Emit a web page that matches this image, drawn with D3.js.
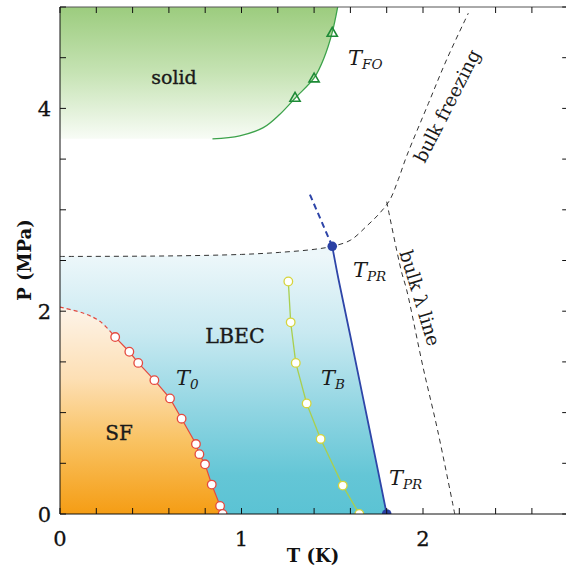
<!DOCTYPE html>
<html><head><meta charset="utf-8">
<script src="https://cdnjs.cloudflare.com/ajax/libs/d3/7.8.5/d3.min.js"></script>
<style>
html,body{margin:0;padding:0;background:#fff;}
svg{display:block;font-family:"DejaVu Serif",serif;}
</style></head>
<body><svg id="c" width="566" height="565"></svg>
<script>
// ---- data (T in K, P in MPa) ----
const xTicks = [0, 1, 2];
const yTicks = [0, 2, 4];
// T0 boundary (superfluid onset) measured points
const t0T = [0.304, 0.382, 0.431, 0.520, 0.606, 0.670, 0.749, 0.768, 0.799, 0.836, 0.882, 0.896];
const t0P = [1.745, 1.60, 1.49, 1.32, 1.14, 0.94, 0.69, 0.59, 0.49, 0.29, 0.08, 0.0];
// T0 extrapolation (dashed)
const t0ExtT = [0, 0.13, 0.22, 0.304];
const t0ExtP = [2.04, 1.98, 1.90, 1.745];
// TB points
const tbT = [1.258, 1.271, 1.299, 1.359, 1.436, 1.558, 1.649];
const tbP = [2.293, 1.89, 1.49, 1.09, 0.74, 0.28, 0.0];
// TPR line
const tprT = [1.50, 1.535, 1.598, 1.668, 1.755, 1.80];
const tprP = [2.64, 2.31, 1.77, 1.16, 0.40, 0.0];
// TPR dashed extension
const tprExtT = [1.377, 1.50];
const tprExtP = [3.15, 2.64];
// TPR end points (filled dots)
const tprDotT = [1.50, 1.80];
const tprDotP = [2.64, 0.0];
// TFO freezing-onset curve and markers
const tfoT = [0.84, 0.99, 1.12, 1.21, 1.30, 1.40, 1.455, 1.50, 1.53];
const tfoP = [3.70, 3.73, 3.81, 3.94, 4.11, 4.30, 4.50, 4.75, 5.0];
const tfoMarkT = [1.295, 1.40, 1.50];
const tfoMarkP = [4.11, 4.30, 4.75];
// bulk freezing (dashed)
const bfT = [0, 0.6, 1.0, 1.21, 1.4, 1.5, 1.6, 1.69, 1.763, 1.818, 1.864, 1.91, 2.03, 2.13, 2.25];
const bfP = [2.54, 2.545, 2.56, 2.58, 2.61, 2.64, 2.70, 2.84, 2.97, 3.10, 3.30, 3.53, 4.05, 4.48, 4.94];
// bulk lambda line (dashed)
const lamT = [1.80, 1.88, 1.91, 2.00, 2.08, 2.175];
const lamP = [3.08, 2.40, 2.21, 1.45, 0.83, 0.0];

const zip = (a, b) => a.map((v, i) => [v, b[i]]);

// ---- layout ----
const svg = d3.select("#c");
const x = d3.scaleLinear().domain([0, 2]).range([60, 423]);
const y = d3.scaleLinear().domain([0, 5]).range([514, 7]);
const xMax = 2.8;
const X0 = x(0), X1 = x(xMax), Y0 = y(0), Y1 = y(5);

const defs = svg.append("defs");
defs.append("clipPath").attr("id", "plot").append("rect")
  .attr("x", X0).attr("y", Y1).attr("width", X1 - X0).attr("height", Y0 - Y1);

function grad(id, p0, p1, stops) {
  const g = defs.append("linearGradient").attr("id", id)
    .attr("gradientUnits", "userSpaceOnUse")
    .attr("x1", 0).attr("x2", 0).attr("y1", y(p0)).attr("y2", y(p1));
  stops.forEach(s => g.append("stop").attr("offset", s[0]).attr("stop-color", s[1]));
}
grad("gSolid", 5, 3.70, [[0, "#9ccc7e"], [0.5, "#c6e3b4"], [1, "#f8fcf6"]]);
grad("gLbec", 2.55, 0, [[0, "#edf7fa"], [0.3, "#c8e9f1"], [0.6, "#90d5e2"], [0.85, "#64c6d6"], [1, "#5bc3d4"]]);
grad("gSf", 2.05, 0, [[0, "#fdf4ea"], [0.35, "#fddfb4"], [0.65, "#f9c262"], [1, "#f59d14"]]);

const lin = d3.line().x(d => x(d[0])).y(d => y(d[1]));
const smooth = d3.line().x(d => x(d[0])).y(d => y(d[1])).curve(d3.curveCatmullRom.alpha(0.5));

const g = svg.append("g").attr("clip-path", "url(#plot)");

// solid region
g.append("path")
  .attr("d", smooth(zip(tfoT, tfoP)) + `L${x(0)},${y(5)}L${x(0)},${y(3.70)}Z`)
  .attr("fill", "url(#gSolid)");

// LBEC region
const bfLeft = zip(bfT, bfP).filter(d => d[0] <= 1.5);
const lbecPts = [[0, 0]].concat(bfLeft, zip(tprT, tprP).slice(1));
g.append("path").attr("d", lin(lbecPts) + "Z").attr("fill", "url(#gLbec)");

// SF region
const sfPts = [[0, 0]].concat(zip(t0ExtT, t0ExtP), zip(t0T, t0P).slice(1));
g.append("path").attr("d", lin(sfPts) + "Z").attr("fill", "url(#gSf)");

// dashed bulk lines
g.append("path").attr("d", smooth(zip(bfT, bfP))).attr("fill", "none")
  .attr("stroke", "#333").attr("stroke-width", 1).attr("stroke-dasharray", "5,4");
g.append("path").attr("d", smooth(zip(lamT, lamP))).attr("fill", "none")
  .attr("stroke", "#333").attr("stroke-width", 1).attr("stroke-dasharray", "5,4");

// TFO curve + triangles
g.append("path").attr("d", smooth(zip(tfoT, tfoP))).attr("fill", "none")
  .attr("stroke", "#3ca24a").attr("stroke-width", 1.3);
const tri = d3.symbol().type(d3.symbolTriangle).size(45);
g.selectAll(".tri").data(zip(tfoMarkT, tfoMarkP)).join("path")
  .attr("d", tri).attr("transform", d => `translate(${x(d[0])},${y(d[1]) + 1})`)
  .attr("fill", "none").attr("stroke", "#1d8a36").attr("stroke-width", 1.6);

// T0 dashed extension + line + circles
g.append("path").attr("d", smooth(zip(t0ExtT, t0ExtP))).attr("fill", "none")
  .attr("stroke", "#e5493f").attr("stroke-width", 1.2).attr("stroke-dasharray", "4,3");
g.append("path").attr("d", lin(zip(t0T, t0P))).attr("fill", "none")
  .attr("stroke", "#e5493f").attr("stroke-width", 1.2);
g.selectAll(".c0").data(zip(t0T, t0P)).join("circle")
  .attr("cx", d => x(d[0])).attr("cy", d => y(d[1])).attr("r", 4.3)
  .attr("fill", "#fff").attr("stroke", "#e5493f").attr("stroke-width", 1.3);

// TB line + circles
g.append("path").attr("d", lin(zip(tbT, tbP))).attr("fill", "none")
  .attr("stroke", "#a9cf4f").attr("stroke-width", 1.3);
g.selectAll(".cb").data(zip(tbT, tbP)).join("circle")
  .attr("cx", d => x(d[0])).attr("cy", d => y(d[1])).attr("r", 4.3)
  .attr("fill", "#fff").attr("stroke", "#d6d43c").attr("stroke-width", 1.3);

// TPR line
g.append("path").attr("d", lin(zip(tprExtT, tprExtP))).attr("fill", "none")
  .attr("stroke", "#2e45a8").attr("stroke-width", 2).attr("stroke-dasharray", "6,4");
g.append("path").attr("d", smooth(zip(tprT, tprP))).attr("fill", "none")
  .attr("stroke", "#2e45a8").attr("stroke-width", 1.8);
g.selectAll(".cp").data(zip(tprDotT, tprDotP)).join("circle")
  .attr("cx", d => x(d[0])).attr("cy", d => y(d[1])).attr("r", 4.8)
  .attr("fill", "#2a40a4");

// ---- axes (ticks inward) ----
const ax = svg.append("g").attr("stroke", "#111").attr("stroke-width", 1);
const xMinor = d3.range(0, xMax + 0.001, 0.2);
const yMinor = d3.range(0, 5.001, 0.5);
ax.append("line").attr("x1", X0).attr("x2", X1).attr("y1", Y0).attr("y2", Y0);
ax.append("line").attr("x1", X0).attr("x2", X1).attr("y1", Y1).attr("y2", Y1).attr("stroke", "#555");
ax.append("line").attr("x1", X0).attr("x2", X0).attr("y1", Y0).attr("y2", Y1);
ax.append("line").attr("x1", X1).attr("x2", X1).attr("y1", Y0).attr("y2", Y1);
xMinor.forEach(t => {
  ax.append("line").attr("x1", x(t)).attr("x2", x(t)).attr("y1", Y0).attr("y2", Y0 - 6);
  ax.append("line").attr("x1", x(t)).attr("x2", x(t)).attr("y1", Y1).attr("y2", Y1 + 6);
});
yMinor.forEach(p => {
  ax.append("line").attr("x1", X0).attr("x2", X0 + 6).attr("y1", y(p)).attr("y2", y(p));
  ax.append("line").attr("x1", X1).attr("x2", X1 - 6).attr("y1", y(p)).attr("y2", y(p));
});

const lab = svg.append("g").attr("fill", "#111").attr("font-size", 21)
  .attr("stroke", "#111").attr("stroke-width", 0.3);
xTicks.forEach(t => lab.append("text").attr("x", x(t)).attr("y", 546)
  .attr("text-anchor", "middle").text(t));
yTicks.forEach(p => lab.append("text").attr("x", 51).attr("y", y(p) + 7.5)
  .attr("text-anchor", "end").text(p));

svg.append("text").attr("x", 313).attr("y", 562).attr("text-anchor", "middle")
  .attr("font-size", 18).attr("font-weight", "bold").attr("fill", "#111").text("T (K)");
svg.append("text").attr("transform", "translate(31,260) rotate(-90)").attr("text-anchor", "middle")
  .attr("font-size", 18).attr("font-weight", "bold").attr("fill", "#111").text("P (MPa)");

// ---- region / curve labels ----
const ann = svg.append("g").attr("fill", "#1a1a1a");
function plain(tx, px, py, size) {
  ann.append("text").attr("x", px).attr("y", py).attr("text-anchor", "middle")
    .attr("font-size", size).attr("stroke", "#1a1a1a").attr("stroke-width", 0.35).text(tx);
}
plain("solid", 174, 84, 19);
plain("LBEC", 235, 343, 20.5);
plain("SF", 119, 440, 20);
function tsub(px, py, sub) {
  const t = ann.append("text").attr("x", px).attr("y", py).attr("font-size", 21).attr("font-style", "italic");
  t.append("tspan").text("T");
  t.append("tspan").attr("font-size", 13.5).attr("dy", 4).text(sub);
}
tsub(176, 385, "0");
tsub(321, 385, "B");
tsub(348, 65, "FO");
tsub(353, 277, "PR");
tsub(389, 485, "PR");

ann.append("text").attr("transform", "translate(447,106) rotate(-63)")
  .attr("text-anchor", "middle").attr("dominant-baseline", "central")
  .attr("font-size", 18.5).text("bulk freezing");
ann.append("text").attr("transform", "translate(420,298) rotate(73)")
  .attr("text-anchor", "middle").attr("dominant-baseline", "central")
  .attr("font-size", 18.5).text("bulk λ line");
</script></body></html>
